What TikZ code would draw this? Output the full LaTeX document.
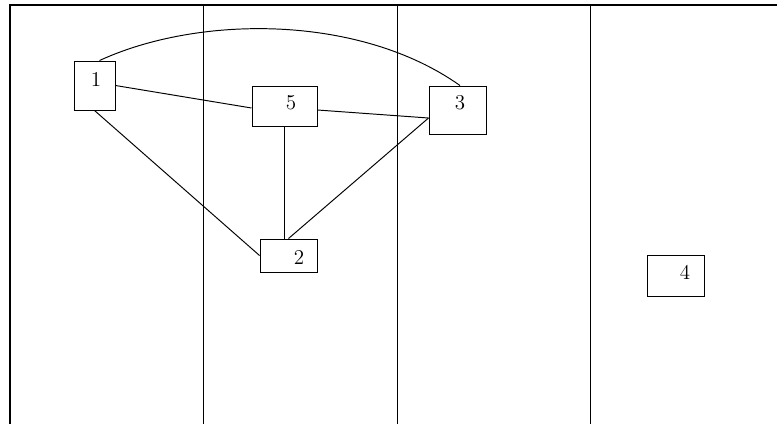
\documentclass[tikz,border=0pt]{standalone}
\usepackage{tikz}
\tikzset{
  box/.style={draw,rectangle,inner sep=0pt},
  num/.style={font=\large,inner sep=0pt}
}
\begin{document}
\begin{tikzpicture}[x=0.02cm,y=-0.02cm,line width=.55pt]
    \useasboundingbox (0,0) rectangle (777,424);
    \draw[line width=.8pt] (777,5) -- (10,5) -- (10,424);
    \draw (203,5) -- (203,424);
    \draw (397,5) -- (397,424);
    \draw (590,5) -- (590,424);
    \node[box,minimum width=.82cm,minimum height=.98cm] (n1) at (94.5,85.5) {};
    \node[box,minimum width=1.30cm,minimum height=.80cm] (n5) at (284.5,106) {};
    \node[box,minimum width=1.14cm,minimum height=.96cm] (n3) at (457.5,110) {};
    \node[box,minimum width=1.14cm,minimum height=.66cm] (n2) at (288.5,255.5) {};
    \node[box,minimum width=1.14cm,minimum height=.82cm] (n4) at (675.5,275.5) {};
    \node[num] (t1) at (96,79) {1};
    \node[num] (t5) at (291,103) {5};
    \node[num] (t3) at (460,103) {3};
    \node[num] (t2) at (299,257) {2};
    \node[num] (t4) at (685,272) {4};
    \coordinate (n3in) at ([yshift=-.16cm]n3.west);
    \draw (n1.east) -- ([yshift=-.04cm]n5.west);
    \draw ([yshift=-.08cm]n5.east) -- (n3in);
    \draw (n1.south) -- (n2.west);
    \draw (n5.south) -- (n5.south |- n2.north);
    \draw (n2.north) -- (n3in);
    \draw ([xshift=.1cm]n1.north) .. controls +(100,-46) and +(-100,-71) .. ([xshift=.05cm]n3.north);
  \end{tikzpicture}
\end{document}
